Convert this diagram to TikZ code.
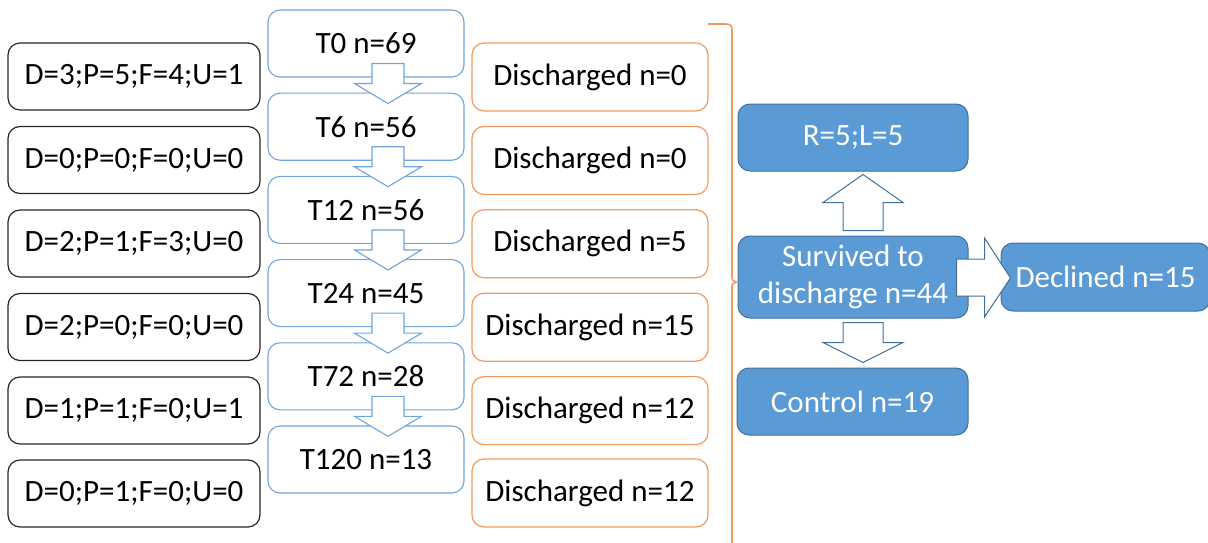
\documentclass[tikz,border=0pt]{standalone}
\usepackage{fontspec}
\setmainfont{Carlito}
\usetikzlibrary{calc}
\definecolor{tblue}{HTML}{6FA5DC}
\definecolor{fblue}{HTML}{5B9BD5}
\definecolor{dblue}{HTML}{41719C}
\definecolor{orng}{HTML}{F29A5E}
\definecolor{dgray}{HTML}{262626}
\tikzset{
  base/.style={rounded corners=12pt, inner sep=0pt, font=\fontsize{31}{37}\selectfont, align=center},
  blkbox/.style={base, draw=dgray, line width=1.2pt, minimum width=252pt, minimum height=67pt},
  tbox/.style={base, draw=tblue, line width=1.1pt, minimum width=196pt, minimum height=67pt},
  obox/.style={base, draw=orng, line width=1.2pt, minimum width=236pt, minimum height=68pt},
  fbox/.style={base, draw=dblue, fill=fblue, line width=1pt, text=white, minimum width=230pt, minimum height=67pt},
  tarr/.style={draw=tblue, fill=white, line width=1.1pt, line join=miter},
  barr/.style={draw=dblue, fill=white, line width=1pt, line join=miter},
  brace/.style={draw=orng, line width=1.6pt}
}
\begin{document}
\begin{tikzpicture}[x=1pt,y=-1pt]
\useasboundingbox (0,0) rectangle (1208,543);
% left boxes
\node[blkbox] (b0) at (134,76.5) {D=3;P=5;F=4;U=1};
\node[blkbox] (b1) at (134,160) {D=0;P=0;F=0;U=0};
\node[blkbox] (b2) at (134,243.5) {D=2;P=1;F=3;U=0};
\node[blkbox] (b3) at (134,327) {D=2;P=0;F=0;U=0};
\node[blkbox] (b4) at (134,410.5) {D=1;P=1;F=0;U=1};
\node[blkbox] (b5) at (134,493.5) {D=0;P=1;F=0;U=0};
% time boxes
\node[tbox] (t0) at (366,43.5) {T0 n=69};
\node[tbox] (t1) at (366,126.7) {T6 n=56};
\node[tbox] (t2) at (366,209.9) {T12 n=56};
\node[tbox] (t3) at (366,293.1) {T24 n=45};
\node[tbox] (t4) at (366,376.3) {T72 n=28};
\node[tbox] (t5) at (366,459.5) {T120 n=13};
% discharged boxes
\node[obox] (o0) at (590,77) {Discharged n=0};
\node[obox] (o1) at (590,160.4) {Discharged n=0};
\node[obox] (o2) at (590,243.8) {Discharged n=5};
\node[obox] (o3) at (590,327.2) {Discharged n=15};
\node[obox] (o4) at (590,410.6) {Discharged n=12};
\node[obox] (o5) at (590,493) {Discharged n=12};
% arrows between time boxes
\foreach \a in {t0,t1,t2,t3,t4}{
  \draw[tarr] ($(\a.south)+(6,-14)$) -- ++(32,0) -- ++(0,20) -- ++(17.5,0)
     -- ++(-33.5,20) -- ++(-33.5,-20) -- ++(17.5,0) -- cycle;
}
% brace (its lower end lies below the picture's edge)
\coordinate (brtop) at (708,24);
\coordinate (brmid) at (736,282);
\coordinate (brbot) at (708,556);
\draw[brace] (brtop) -- (726,24) .. controls (731,24) and (732,26) .. (732,31)
  -- (732,276) .. controls (732,280) .. (brmid) .. controls (732,284) .. (732,288)
  -- (732,549) .. controls (732,554) and (731,556) .. (726,556) -- (brbot);
% right boxes
\node[fbox] (rl) at (853,137.5) {R=5;L=5};
\node[fbox, minimum height=82pt] (sv) at (853,277) {Survived to\\discharge n=44};
\node[fbox, minimum width=231pt] (ct) at (852.5,401.5) {Control n=19};
\node[fbox, minimum width=209pt, minimum height=68pt] (dc) at (1105.5,277) {Declined n=15};
% block arrows on right
\draw[barr] ($(sv.north)+(-10,-5)$) -- ++(0,-28) -- ++(-20,0) -- ++(40,-28)
   -- ++(40,28) -- ++(-20,0) -- ++(0,28) -- cycle;
\draw[barr] ($(sv.south)+(-10,4)$) -- ++(0,20) -- ++(-20,0) -- ++(40,20)
   -- ++(40,-20) -- ++(-20,0) -- ++(0,-20) -- cycle;
\draw[barr] ($(sv.east)+(-12,-18)$) -- ++(28,0) -- ++(0,-21) -- ++(26,40)
   -- ++(-26,39) -- ++(0,-21) -- ++(-28,0) -- cycle;
\end{tikzpicture}
\end{document}
